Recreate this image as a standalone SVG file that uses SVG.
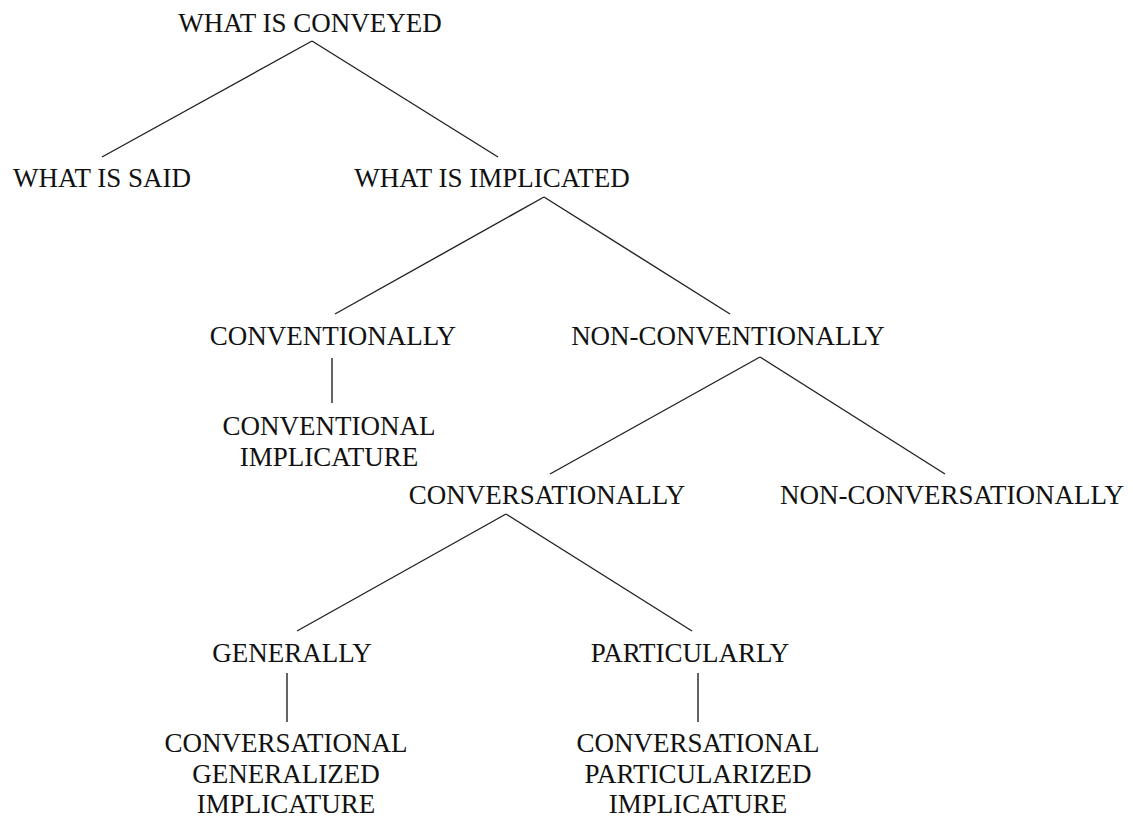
<svg xmlns="http://www.w3.org/2000/svg" width="1133" height="818" viewBox="0 0 1133 818">
<style>
text{font-family:"Liberation Serif","Times New Roman",serif;font-size:27px;fill:#111;text-anchor:middle}
line{stroke:#222;stroke-width:1.4}
</style>
<rect width="1133" height="818" fill="#fff"/>
<g id="connectors">
<line x1="312" y1="41" x2="102" y2="157"/>
<line x1="312" y1="41" x2="498" y2="157"/>
<line x1="544" y1="197" x2="335" y2="314"/>
<line x1="544" y1="197" x2="730" y2="314"/>
<line x1="332" y1="358" x2="332" y2="403"/>
<line x1="760" y1="357" x2="550" y2="474"/>
<line x1="760" y1="357" x2="945" y2="474"/>
<line x1="506" y1="514" x2="297" y2="631"/>
<line x1="506" y1="514" x2="692" y2="631"/>
<line x1="287" y1="673" x2="287" y2="722"/>
<line x1="698" y1="673" x2="698" y2="722"/>
</g>
<g id="n-conveyed"><text x="310" y="32">WHAT IS CONVEYED</text></g>
<g id="n-said"><text x="102" y="187">WHAT IS SAID</text></g>
<g id="n-implicated"><text x="492" y="187">WHAT IS IMPLICATED</text></g>
<g id="n-conventionally"><text x="333" y="345">CONVENTIONALLY</text></g>
<g id="n-nonconventionally"><text x="728" y="345">NON-CONVENTIONALLY</text></g>
<g id="n-conv-impl"><text x="329" y="435">CONVENTIONAL</text><text x="329" y="466">IMPLICATURE</text></g>
<g id="n-conversationally"><text x="547" y="504">CONVERSATIONALLY</text></g>
<g id="n-nonconversationally"><text x="952" y="504">NON-CONVERSATIONALLY</text></g>
<g id="n-generally"><text x="292" y="662">GENERALLY</text></g>
<g id="n-particularly"><text x="690" y="662">PARTICULARLY</text></g>
<g id="n-gen-impl"><text x="286" y="752">CONVERSATIONAL</text><text x="286" y="783">GENERALIZED</text><text x="286" y="813">IMPLICATURE</text></g>
<g id="n-part-impl"><text x="698" y="752">CONVERSATIONAL</text><text x="698" y="783">PARTICULARIZED</text><text x="698" y="813">IMPLICATURE</text></g>
</svg>
